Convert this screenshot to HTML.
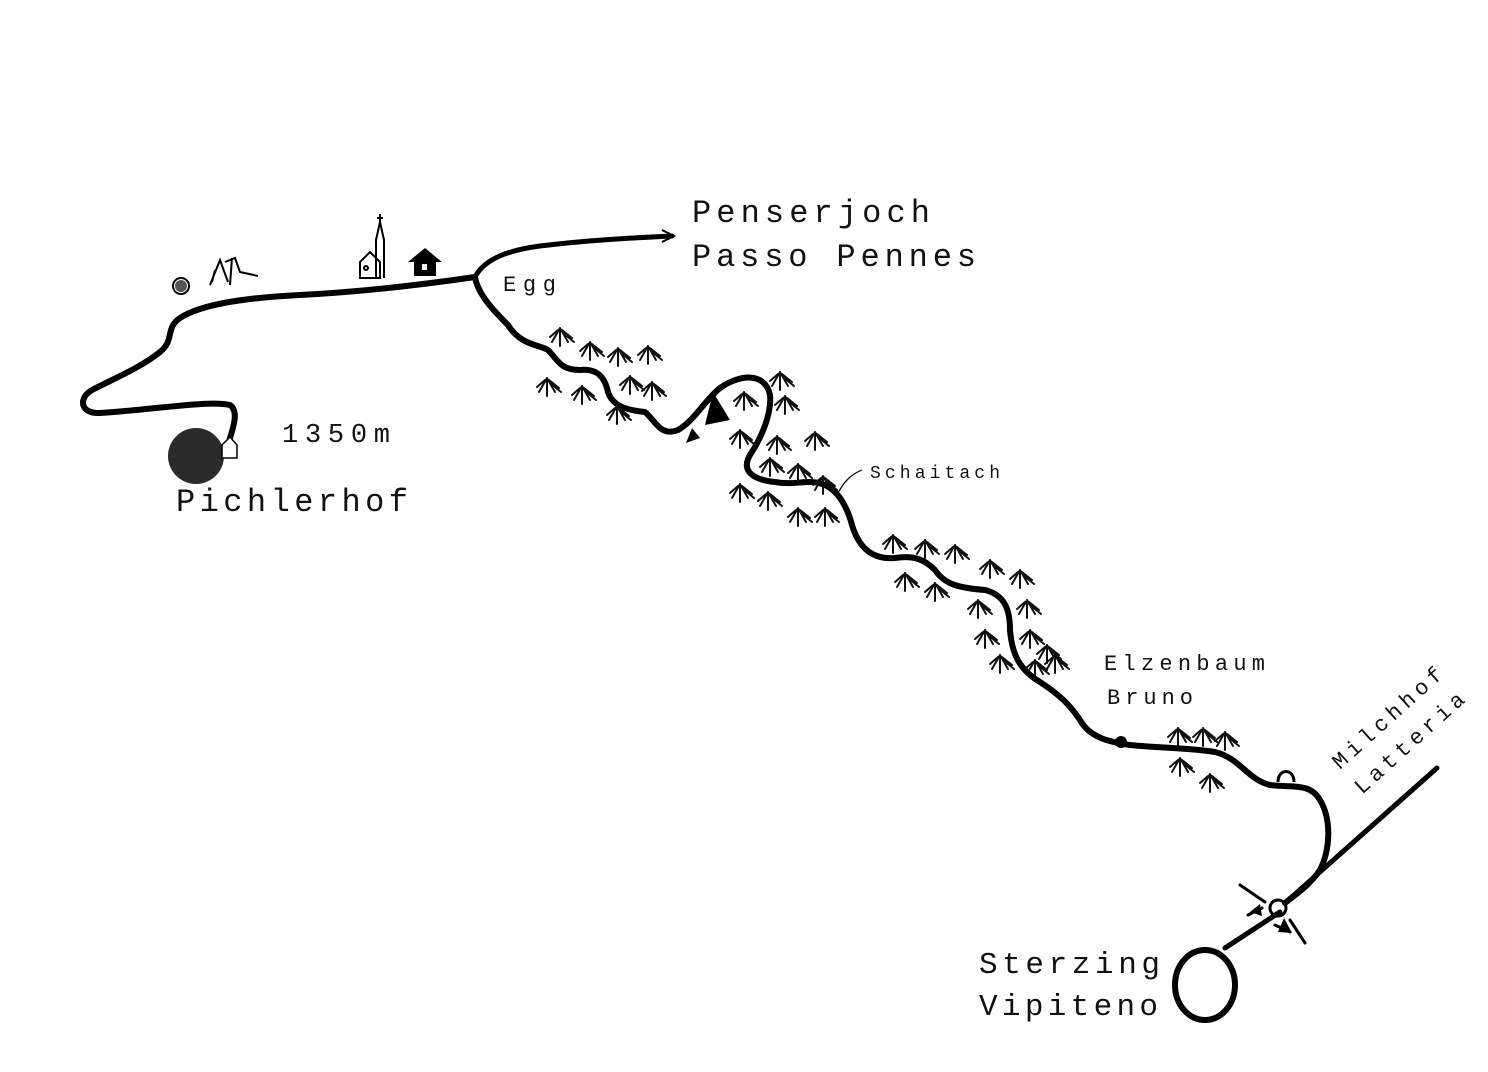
<!DOCTYPE html>
<html><head><meta charset="utf-8"><style>html,body{margin:0;padding:0;background:#fff}svg{display:block}</style></head><body>
<svg width="1488" height="1072" viewBox="0 0 1488 1072" xmlns="http://www.w3.org/2000/svg">
<defs>
<g id="t" fill="none" stroke="#111" stroke-width="2" stroke-linecap="round">
<path d="M0,0 L0,18 M0,0 L-8,14 M0,0 L8,14 M2,2 L12,10 M-2,2 L-10,9 M3,5 L14,14"/>
</g>
</defs>
<g fill="none" stroke="#000" stroke-width="6" stroke-linecap="round" stroke-linejoin="round">
<path d="M228,445 C232,430 240,412 230,405 C210,400 150,410 100,413 C80,414 78,398 92,390 C115,378 140,368 160,352 C175,340 165,328 180,318 C200,305 240,298 300,295 C360,292 420,285 475,277"/>
<path d="M475,277 C485,258 510,250 540,246 C590,240 630,238 672,236" stroke-width="5"/>
<path d="M475,277 C478,295 495,312 508,325 C520,345 540,345 548,350 C558,360 560,370 580,370 C598,368 605,378 608,392 C612,405 625,410 645,412 C655,420 660,437 678,430 C695,420 705,400 720,388 C740,374 765,372 770,395 C772,415 760,440 750,455 C740,472 755,480 775,482 C795,486 810,478 825,485 C840,492 848,510 852,525 C858,545 870,560 895,558 C915,555 925,560 935,570 C945,585 960,588 985,590 C1005,595 1010,610 1010,630 C1012,655 1020,670 1040,682 C1060,695 1070,705 1080,720 C1090,738 1110,742 1130,745 C1160,748 1190,748 1215,752 C1240,758 1248,780 1270,785 C1290,788 1310,782 1320,800 C1332,820 1330,850 1320,870 C1310,885 1295,895 1285,903"/>
<path d="M1285,903 L1437,768" stroke-width="5"/>
<path d="M1280,912 L1225,948" stroke-width="5"/>
<ellipse cx="1205" cy="985" rx="30" ry="35" stroke-width="6"/>
</g>
<path d="M662,230 L674,236 L662,242" fill="none" stroke="#000" stroke-width="2"/>
<circle cx="196" cy="456" r="28" fill="#2a2a2a"/>
<path d="M222,445 L230,437 L237,445 L237,458 L222,458 Z" fill="#fff" stroke="#000" stroke-width="1.5"/>
<circle cx="1121" cy="742" r="6" fill="#000"/>
<path d="M1278,782 C1278,768 1294,768 1294,782" fill="none" stroke="#000" stroke-width="3"/>
<path d="M705,425 L713,392 L730,420 Z" fill="#000"/>
<path d="M686,443 L692,428 L700,438 Z" fill="#000"/>
<g stroke="#000" stroke-width="3" fill="none" stroke-linecap="round">
<path d="M1240,885 L1265,902 M1290,920 L1305,943 M1248,915 L1262,908 M1275,925 L1290,932"/>
<circle cx="1278" cy="908" r="8" stroke-width="3"/>
</g>
<path d="M1278,932 L1284,918 L1292,933 Z" fill="#000"/>
<path d="M1250,912 L1260,904 L1262,916 Z" fill="#000"/>
<!-- church & houses -->
<g stroke="#000" stroke-width="2" fill="none">
<path d="M360,278 L360,262 L370,252 L380,262 L380,278 Z"/>
<path d="M376,278 L376,240 L380,222 L384,240 L384,278"/>
<path d="M380,222 L380,214 M377,218 L383,218"/>
<circle cx="366" cy="268" r="2"/>
<circle cx="181" cy="286" r="8"/>
<path d="M210,285 L220,260 L228,282 M225,262 L235,258 L240,272 L258,276 M232,258 L230,285 M215,270 L212,282"/>
</g>
<path d="M408,262 L425,248 L442,262 L436,262 L436,276 L414,276 L414,262 Z" fill="#000"/>
<rect x="422" y="264" width="5" height="6" fill="#fff"/>
<circle cx="181" cy="286" r="6" fill="#555"/>
<g>
<use href="#t" x="560" y="328"/><use href="#t" x="590" y="342"/><use href="#t" x="618" y="348"/><use href="#t" x="648" y="346"/>
<use href="#t" x="547" y="378"/><use href="#t" x="582" y="386"/><use href="#t" x="630" y="376"/><use href="#t" x="652" y="382"/><use href="#t" x="617" y="406"/>
<use href="#t" x="744" y="392"/><use href="#t" x="780" y="372"/><use href="#t" x="785" y="396"/><use href="#t" x="740" y="430"/><use href="#t" x="777" y="436"/><use href="#t" x="815" y="432"/>
<use href="#t" x="770" y="458"/><use href="#t" x="798" y="464"/><use href="#t" x="823" y="476"/><use href="#t" x="740" y="484"/><use href="#t" x="768" y="492"/><use href="#t" x="798" y="508"/><use href="#t" x="825" y="508"/>
<use href="#t" x="893" y="535"/><use href="#t" x="925" y="540"/><use href="#t" x="955" y="545"/><use href="#t" x="990" y="560"/><use href="#t" x="1020" y="570"/>
<use href="#t" x="905" y="573"/><use href="#t" x="935" y="583"/><use href="#t" x="978" y="600"/><use href="#t" x="1027" y="600"/>
<use href="#t" x="985" y="630"/><use href="#t" x="1030" y="630"/><use href="#t" x="1047" y="645"/><use href="#t" x="1000" y="655"/><use href="#t" x="1035" y="660"/><use href="#t" x="1055" y="655"/>
<use href="#t" x="1178" y="728"/><use href="#t" x="1203" y="728"/><use href="#t" x="1225" y="732"/><use href="#t" x="1180" y="758"/><use href="#t" x="1210" y="774"/>
</g>
<path d="M838,493 C845,480 852,474 862,470" fill="none" stroke="#000" stroke-width="1.2"/>
<g font-family="'Liberation Mono', monospace" fill="#111">
<text x="692" y="222" font-size="32" textLength="238" lengthAdjust="spacing">Penserjoch</text>
<text x="692" y="266" font-size="32" textLength="284" lengthAdjust="spacing">Passo Pennes</text>
<text x="503" y="291" font-size="22" textLength="53" lengthAdjust="spacing">Egg</text>
<text x="282" y="442" font-size="27" textLength="108" lengthAdjust="spacing">1350m</text>
<text x="176" y="511" font-size="32" textLength="232" lengthAdjust="spacing">Pichlerhof</text>
<text x="870" y="478" font-size="18" textLength="130" lengthAdjust="spacing">Schaitach</text>
<text x="1104" y="670" font-size="22" textLength="161" lengthAdjust="spacing">Elzenbaum</text>
<text x="1107" y="704" font-size="22" textLength="86" lengthAdjust="spacing">Bruno</text>
<text x="979" y="973" font-size="31" textLength="181" lengthAdjust="spacing">Sterzing</text>
<text x="979" y="1015" font-size="31" textLength="179" lengthAdjust="spacing">Vipiteno</text>
<text transform="translate(1340,770) rotate(-42)" font-size="22" textLength="140" lengthAdjust="spacing">Milchhof</text>
<text transform="translate(1362,795) rotate(-42)" font-size="22" textLength="140" lengthAdjust="spacing">Latteria</text>
</g>
</svg>
</body></html>
